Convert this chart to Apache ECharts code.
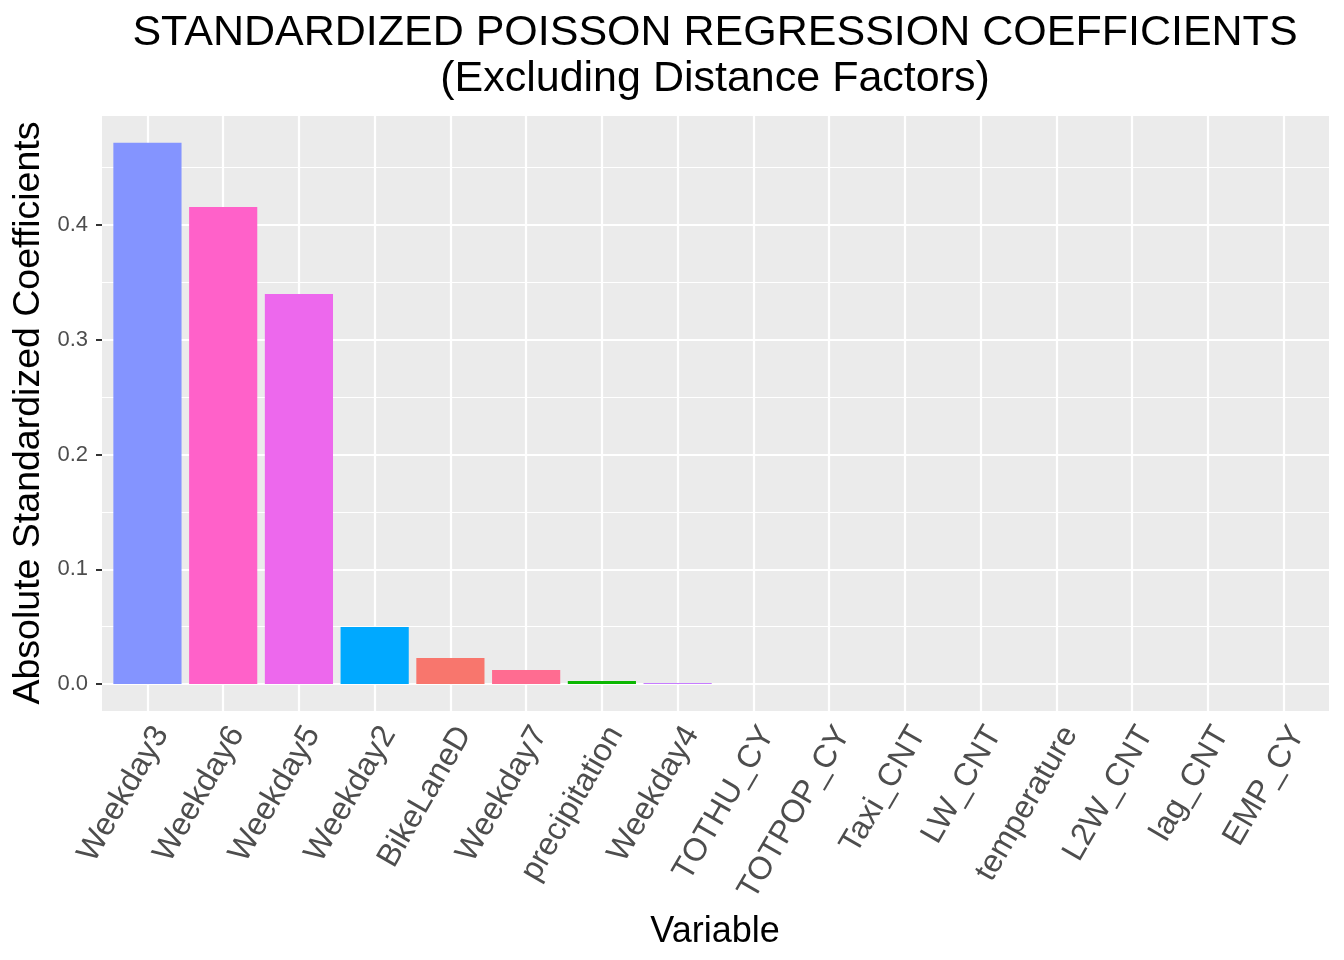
<!DOCTYPE html>
<html>
<head>
<meta charset="utf-8">
<script src="https://cdn.jsdelivr.net/npm/echarts@6/dist/echarts.min.js"></script>
<style>html,body{margin:0;padding:0;background:#fff}#c{width:1344px;height:960px}</style>
</head>
<body>
<div id="c"></div>
<script>
// ---- data ----
const categories = ['Weekday3','Weekday6','Weekday5','Weekday2','BikeLaneD','Weekday7','precipitation','Weekday4','TOTHU_CY','TOTPOP_CY','Taxi_CNT','LW_CNT','temperature','L2W_CNT','lag_CNT','EMP_CY'];
const coefValues = [0.4717, 0.4157, 0.3399, 0.0497, 0.0227, 0.0122, 0.0026, 0.0009, 0, 0, 0, 0, 0, 0, 0, 0];
const barColors = ['#8494FF','#FF61C9','#ED68ED','#00A9FF','#F8766D','#FF6C91','#0CB702','#C77CFF','#00BFC4','#7CAE00','#00BA38','#00C19A','#DE8C00','#B79F00','#00B8E7','#FF64B0'];
const yTickValues = [0, 0.1, 0.2, 0.3, 0.4];
const yMinorValues = [0.05, 0.15, 0.25, 0.35, 0.45];
const yTickLabels = ['0.0','0.1','0.2','0.3','0.4'];

// ---- layout ----
const W = 1344, H = 960;
const gLeft = 102, gRight = 15, gTop = 116, gBottom = 249;
const xMin = 0.4, xMax = categories.length + 0.6;
const yMin = -0.0235, yMax = 0.495;
const gridW = W - gLeft - gRight;
const barW = gridW / (xMax - xMin) * 0.9;
const FONT = "'Liberation Sans', Arial, sans-serif";

const positions = categories.map((c, i) => i + 1);

const gridLines = [];
yTickValues.forEach(v => gridLines.push({ yAxis: v, lineStyle: { width: 2.2 } }));
yMinorValues.forEach(v => gridLines.push({ yAxis: v, lineStyle: { width: 1.1 } }));
positions.forEach(p => gridLines.push({ xAxis: p, lineStyle: { width: 2.2 } }));

const chart = echarts.init(document.getElementById('c'), null, { renderer: 'canvas', width: W, height: H });
chart.setOption({
  animation: false,
  backgroundColor: '#ffffff',
  textStyle: { fontFamily: FONT },
  grid: { left: gLeft, right: gRight, top: gTop, bottom: gBottom, show: true, backgroundColor: '#EBEBEB', borderWidth: 0, containLabel: false },
  xAxis: {
    type: 'value', min: xMin, max: xMax,
    axisLine: { show: false },
    splitLine: { show: false },
    axisTick: { show: true, customValues: positions, length: 6, lineStyle: { color: '#333333', width: 2 } },
    axisLabel: {
      show: true, customValues: positions, rotate: 60, margin: 10,
      align: 'right', verticalAlign: 'top',
      fontSize: 32, color: '#4D4D4D', fontFamily: FONT,
      formatter: v => categories[Math.round(v) - 1]
    }
  },
  yAxis: {
    type: 'value', min: yMin, max: yMax,
    axisLine: { show: false },
    splitLine: { show: false },
    axisTick: { show: true, customValues: yTickValues, length: 6, lineStyle: { color: '#333333', width: 2 } },
    axisLabel: {
      show: true, customValues: yTickValues, margin: 14,
      fontSize: 22, color: '#4D4D4D', fontFamily: FONT,
      formatter: v => { const i = yTickValues.findIndex(t => Math.abs(t - v) < 1e-9); return i >= 0 ? yTickLabels[i] : ''; }
    }
  },
  series: [{
    type: 'bar',
    z: 3,
    barWidth: barW,
    data: coefValues.map((v, i) => ({ value: [positions[i], v], itemStyle: { color: barColors[i] } })),
    silent: true,
    markLine: {
      z: 1,
      silent: true,
      symbol: ['none', 'none'],
      label: { show: false },
      emphasis: { disabled: true },
      lineStyle: { color: '#FFFFFF', type: 'solid' },
      data: gridLines
    }
  }],
  graphic: [
    { type: 'text', x: 715, y: 33, style: { text: 'STANDARDIZED POISSON REGRESSION COEFFICIENTS', font: '43px ' + FONT, fill: '#000', textAlign: 'center', textVerticalAlign: 'middle' } },
    { type: 'text', x: 715, y: 79, style: { text: '(Excluding Distance Factors)', font: '43px ' + FONT, fill: '#000', textAlign: 'center', textVerticalAlign: 'middle' } },
    { type: 'text', x: 715, y: 932, style: { text: 'Variable', font: '36px ' + FONT, fill: '#000', textAlign: 'center', textVerticalAlign: 'middle' } },
    { type: 'text', x: 29, y: 413, rotation: Math.PI / 2, style: { text: 'Absolute Standardized Coefficients', font: '37.5px ' + FONT, fill: '#000', textAlign: 'center', textVerticalAlign: 'middle' } }
  ]
});
</script>
</body>
</html>
